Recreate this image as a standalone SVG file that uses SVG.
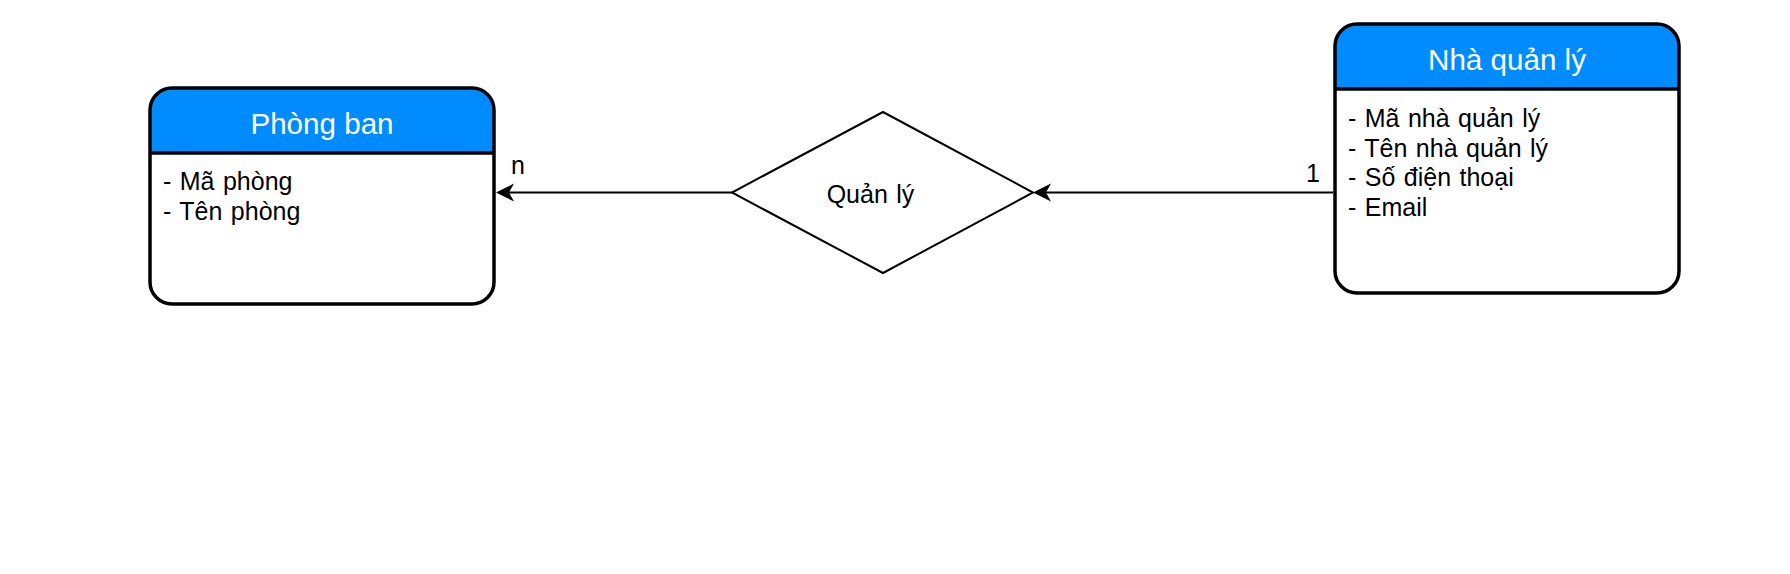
<svg xmlns="http://www.w3.org/2000/svg" width="1790" height="574" viewBox="0 0 1790 574">
<style>
.body{fill:#ffffff;stroke:none}
.head{fill:#008cff;stroke:none}
.outline{fill:none;stroke:#000;stroke-width:3.5}
.title{font-family:"Liberation Sans",Arial,sans-serif;font-size:29.6px;fill:#ffffff;text-anchor:middle}
.attr{font-family:"Liberation Sans",Arial,sans-serif;font-size:25px;fill:#000;word-spacing:1.5px}
.lbl{font-family:"Liberation Sans",Arial,sans-serif;font-size:25px;fill:#000;word-spacing:1.5px}
.conn{stroke:#000;stroke-width:2;fill:none}
.rel{fill:#fff;stroke:#000;stroke-width:2}
</style>
<defs>
<marker id="arrow" markerUnits="userSpaceOnUse" viewBox="-10 -10 22 20" refX="0" refY="0" markerWidth="22" markerHeight="20" orient="auto">
<path d="M10,0 L-8,-9 L-3,0 L-8,9 Z" fill="#000"/>
</marker>
</defs>
<rect width="1790" height="574" fill="#fff"/>
<g id="connectors">
<line class="conn" x1="732" y1="192.5" x2="506" y2="192.5" marker-end="url(#arrow)"/>
<line class="conn" x1="1333" y1="192.5" x2="1043" y2="192.5" marker-end="url(#arrow)"/>
<text class="lbl" x="511" y="174">n</text>
<text class="lbl" x="1320" y="182" text-anchor="end">1</text>
</g>
<g id="phong-ban">
<rect class="body" x="150" y="88" width="344" height="216" rx="22"/>
<path class="head" d="M150,153 L150,110 A22,22 0 0 1 172,88 L472,88 A22,22 0 0 1 494,110 L494,153 Z"/>
<line x1="150" y1="153" x2="494" y2="153" stroke="#000" stroke-width="3.5"/>
<rect class="outline" x="150" y="88" width="344" height="216" rx="22"/>
<text class="title" x="322" y="134">Phòng ban</text>
<text class="attr" x="163" y="189.5">- Mã phòng</text>
<text class="attr" x="163" y="219.5">- Tên phòng</text>
</g>
<g id="quan-ly">
<polygon class="rel" points="883,112 1033,192.5 883,273 732,192.5"/>
<text class="lbl" x="870.5" y="202.5" text-anchor="middle">Quản lý</text>
</g>
<g id="nha-quan-ly">
<rect class="body" x="1335" y="24" width="344" height="269" rx="22"/>
<path class="head" d="M1335,89 L1335,46 A22,22 0 0 1 1357,24 L1657,24 A22,22 0 0 1 1679,46 L1679,89 Z"/>
<line x1="1335" y1="89" x2="1679" y2="89" stroke="#000" stroke-width="3.5"/>
<rect class="outline" x="1335" y="24" width="344" height="269" rx="22"/>
<text class="title" x="1507" y="70">Nhà quản lý</text>
<text class="attr" x="1348" y="127">- Mã nhà quản lý</text>
<text class="attr" x="1348" y="156.7">- Tên nhà quản lý</text>
<text class="attr" x="1348" y="186.3">- Số điện thoại</text>
<text class="attr" x="1348" y="216">- Email</text>
</g>
</svg>
